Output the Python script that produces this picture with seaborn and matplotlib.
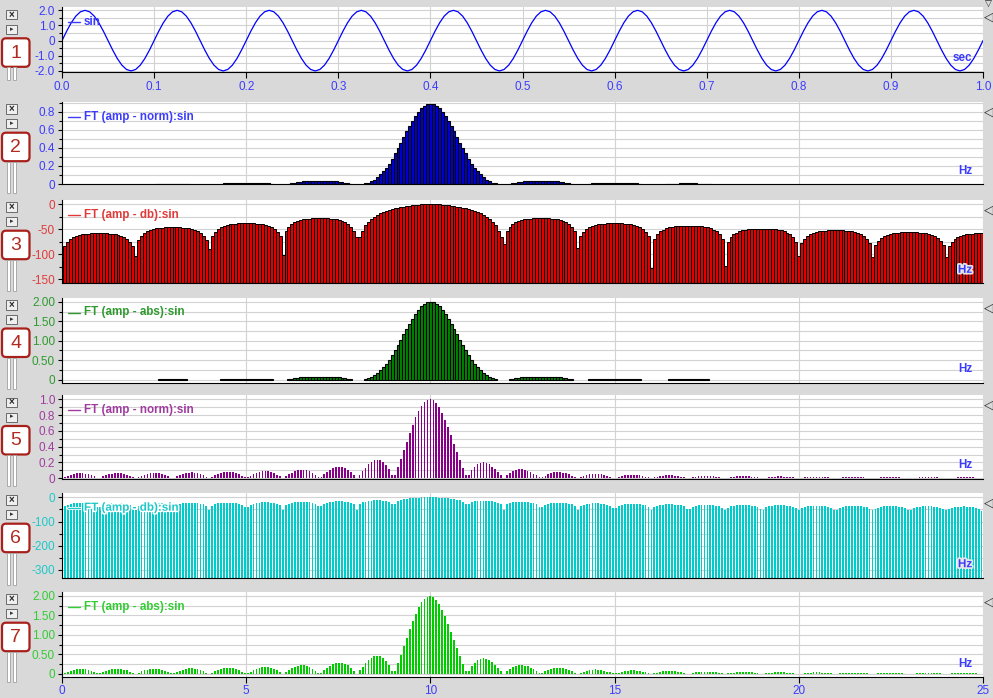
import matplotlib
matplotlib.use("Agg")
import matplotlib.pyplot as plt
import matplotlib.patheffects as pe
from matplotlib.patches import Rectangle, FancyBboxPatch
from matplotlib.ticker import MultipleLocator
import numpy as np
import seaborn as sns

sns.set_style("ticks")
plt.rcParams["font.family"] = ["Liberation Sans", "DejaVu Sans"]

# ---- time signal (one period repeats 10 times over 1 s) ----
time_step = 0.005
sin_period = [0, 0.618, 1.176, 1.618, 1.902, 2.0, 1.902, 1.618, 1.176, 0.618,
              0, -0.618, -1.176, -1.618, -1.902, -2.0, -1.902, -1.618, -1.176, -0.618]
sin_values = sin_period * 10 + [0.0]

# ---- spectra, bin width 0.08 Hz ----
freq_step = 0.08
ft_db_a = [
    -93, -84, -75, -69, -66, -63, -61, -60, -59, -59, -58, -58, -58, -58, -58, -58, -59, -59, -60, -61, -63, -66, -69, -75, -84,
    -103, -72, -63, -57, -54, -51, -49, -48, -47, -47, -46, -46, -46, -46, -46, -46, -47, -47, -48, -49, -51, -54, -57, -63, -72,
    -89, -64, -55, -49, -46, -43, -41, -40, -39, -39, -38, -38, -38, -38, -38, -38, -39, -39, -40, -41, -43, -46, -49, -55, -64,
    -101, -54, -45, -39, -36, -33, -31, -30, -29, -29, -28, -28, -28, -28, -28, -28, -29, -29, -30, -31, -33, -36, -39, -45, -54,
    -65, -65, -53, -42, -35, -29, -25, -21, -18, -16, -14, -12, -10, -8.4, -7, -5.8, -4.7, -3.7, -2.9, -2.1, -1.5, -1.0, -0.5, -0.25, -0.07,
    0, -0.07, -0.25, -0.5, -1.0, -1.5, -2.1, -2.9, -3.7, -4.7, -5.8, -7, -8.4, -10, -12, -14, -16, -18, -21, -25, -29, -35, -42, -53, -65,
    -79, -54, -45, -39, -36, -33, -31, -30, -29, -29, -28, -28, -28, -28, -28, -28, -29, -29, -30, -31, -33, -36, -39, -45, -54,
    -88, -64, -55, -49, -46, -43, -41, -40, -39, -39, -38, -38, -38, -38, -38, -38, -39, -39, -40, -41, -43, -46, -49, -55, -64,
    -127, -69, -60, -54, -51, -48, -46, -45, -44, -44, -43, -43, -43, -43, -43, -43, -44, -44, -45, -46, -48, -51, -54, -60, -69,
    -123, -75, -66, -60, -57, -54, -52, -51, -50, -50, -49, -49, -49, -49, -49, -49, -50, -50, -51, -52, -54, -57, -60, -66, -75,
    -103, -78, -69, -63, -60, -57, -55, -54, -53, -53, -52, -52, -52, -52, -52, -52, -53, -53, -54, -55, -57, -60, -63, -69, -78,
    -105, -82, -73, -67, -64, -61, -59, -58, -57, -57, -56, -56, -56, -56, -56, -56, -57, -57, -58, -59, -61, -64, -67, -73, -82,
    -105, -84, -75, -69, -66, -63, -61, -60, -59, -59, -58, -58, -58,
]
norm_peak_a = 0.89
ft_norm_b = [
    0, .0158, .0307, .0436, .0538, .0606, .0637, .0627, .0578, .0493, .0377, .0236, .0081,
    .0081, .0237, .0380, .0499, .0587, .0639, .0650, .0621, .0553, .0450, .0317, .0164,
    .003, .0165, .0322, .0459, .0568, .0642, .0677, .0669, .0619, .0530, .0406, .0256, .0087,
    .0088, .0260, .0417, .0550, .0649, .0709, .0725, .0696, .0622, .0508, .0360, .0187,
    .003, .0190, .0371, .0531, .0661, .0751, .0795, .0789, .0734, .0631, .0486, .0308, .0106,
    .0107, .0318, .0513, .0680, .0808, .0888, .0914, .0882, .0793, .0652, .0465, .0244,
    .003, .0251, .0494, .0714, .0895, .1025, .1095, .1098, .1030, .0894, .0696, .0445, .0155,
    .0158, .0475, .0777, .1044, .1257, .1401, .1462, .1433, .1310, .1095, .0796, .0425,
    .002, .0456, .0918, .1357, .1746, .2057, .2262, .2340, .2272, .2047, .1659, .1108, .0405,
    .0436, .1393, .2436, .3533, .4649, .5744, .6780, .7723, .8534, .9189, .9663, .9932,
    1.0, .9858, .9508, .8970, .8266, .7420, .6463, .5431, .4360, .3288, .2249, .1275, .0396,
    .0365, .0991, .1471, .1801, .1983, .2025, .1942, .1752, .1476, .1138, .0763, .0376,
    .003, .0345, .0641, .0875, .1038, .1126, .1140, .1083, .0964, .0794, .0586, .0356, .0117,
    .0114, .0325, .0504, .0642, .0734, .0776, .0767, .0713, .0617, .0488, .0335, .0169,
    .003, .0161, .0305, .0424, .0512, .0564, .0579, .0558, .0504, .0420, .0314, .0193, .0064,
    .0063, .0182, .0286, .0367, .0424, .0452, .0451, .0422, .0368, .0294, .0203, .0103,
    .002, .0100, .0190, .0266, .0323, .0358, .0370, .0359, .0326, .0273, .0205, .0127, .0043,
    .0042, .0121, .0191, .0247, .0286, .0306, .0307, .0289, .0253, .0202, .0141, .0072,
    .002, .0070, .0133, .0187, .0228, .0254, .0263, .0256, .0233, .0196, .0148, .0091, .0031,
    .0030, .0088, .0139, .0181, .0210, .0225, .0226, .0213, .0187, .0150, .0104, .0053,
    .002, .0052, .0100, .0141, .0172, .0192, .0199, .0194, .0177, .0149, .0112, .0070, .0024,
    .0023, .0068, .0107, .0139, .0162, .0174, .0175, .0165, .0145, .0117, .0081, .0042,
    .002, .0041, .0078, .0110, .0135, .0151, .0157, .0153, .0140, .0118, .0089, .0055, .0019,
    .0019, .0054, .0085, .0111, .0129, .0139, .0140, .0132, .0117, .0094, .0065, .0034,
    .002, .0033, .0063, .0089, .0109, .0122, .0127, .0124, .0114, .0096, .0073, .0045, .0015,
]
abs_peak = 2.0

channel_labels = ["sin", "FT (amp - norm):sin", "FT (amp - db):sin", "FT (amp - abs):sin",
                  "FT (amp - norm):sin", "FT (amp - db):sin", "FT (amp - abs):sin"]
time_ticks = [0, 0.1, 0.2, 0.3, 0.4, 0.5, 0.6, 0.7, 0.8, 0.9, 1.0]
time_labels = ["0.0", "0.1", "0.2", "0.3", "0.4", "0.5", "0.6", "0.7", "0.8", "0.9", "1.0"]
freq_ticks = [0, 5, 10, 15, 20, 25]
freq_labels = ["0", "5", "10", "15", "20", "25"]

# derived series (unit conversions as shown by the viewer)
t = np.arange(len(sin_values)) * time_step
freqs = np.arange(len(ft_db_a)) * freq_step
lin_a = 10 ** (np.array(ft_db_a) / 20)
norm_a = norm_peak_a * lin_a
abs_a = abs_peak * lin_a
norm_b = np.array(ft_norm_b)
db_b = 20 * np.log10(np.clip(norm_b, 1e-16, None))
abs_b = abs_peak * norm_b

BG = "#d9d9d9"
GRID = "#d2d2d2"
TXT_BLUE = "#3c3cff"
W, H = 993, 698

fig = plt.figure(figsize=(W / 100, H / 100), dpi=100, facecolor=BG)


def make_ax(top, bottom):
    return fig.add_axes([62 / W, 1 - bottom / H, 921 / W, (bottom - top) / H])


def dress(ax, ylim, yticks, ylabels, yminor, color, xlim, xticks, xlabels=None):
    ax.set_facecolor("white")
    ax.set_xlim(*xlim)
    ax.set_ylim(*ylim)
    for side in ("top", "right"):
        ax.spines[side].set_visible(False)
    for side in ("left", "bottom"):
        ax.spines[side].set_color("black")
        ax.spines[side].set_linewidth(0.8)
    ax.set_yticks(yticks)
    ax.set_yticklabels(ylabels)
    ax.yaxis.set_minor_locator(MultipleLocator(yminor))
    ax.set_xticks(xticks)
    if xlabels is None:
        ax.set_xticklabels([])
        ax.tick_params(axis="x", length=0)
    else:
        ax.set_xticklabels(xlabels)
        ax.tick_params(axis="x", length=4, width=0.8, pad=1.5, labelsize=8.5,
                       labelcolor=TXT_BLUE, color="black")
    ax.tick_params(axis="y", which="major", length=3, width=0.8, pad=2,
                   labelsize=8.5, labelcolor=color, color="black")
    ax.tick_params(axis="y", which="minor", length=2, width=0.8, color="black")
    ax.grid(True, axis="y", which="both", color=GRID, lw=0.8)
    ax.grid(True, axis="x", which="major", color=GRID, lw=0.8)
    ax.set_axisbelow(True)


# panel layout in pixels (top, bottom of the white plot area)
tops = [7.3, 101.7, 199.7, 297.5, 395, 492.7, 591.7]
bottoms = [71.7, 184.3, 283.3, 383, 479, 577.7, 677.3]
colors_txt = [TXT_BLUE, TXT_BLUE, "#e03a3a", "#2e9a2e", "#a03ca0", "#1ec8c8", "#33cc33"]

# 1: time signal
ax1 = make_ax(tops[0], bottoms[0])
sns.lineplot(x=t, y=sin_values, ax=ax1, color="#0000ff", linewidth=0.9,
             estimator=None, sort=False, legend=False)
dress(ax1, (-2.05, 2.2), [-2, -1, 0, 1, 2], ["-2.0", "-1.0", "0", "1.0", "2.0"], 0.5,
      TXT_BLUE, (0, 1), time_ticks, time_labels)
ax1.tick_params(axis="x", pad=3)
ax1.set_xlabel("")
ax1.set_ylabel("")

# 2: norm (blue)
ax2 = make_ax(tops[1], bottoms[1])
m = norm_a >= 0.0035
ax2.bar(freqs[m], norm_a[m], width=freq_step, color="#0000e0", edgecolor="black", linewidth=0.8)
dress(ax2, (-0.003, 0.91), [0, 0.2, 0.4, 0.6, 0.8], ["0", "0.2", "0.4", "0.6", "0.8"], 0.1,
      colors_txt[1], (0, 25), freq_ticks)

# 3: dB (red)
ax3 = make_ax(tops[2], bottoms[2])
b3 = -158
ax3.bar(freqs, np.array(ft_db_a) - b3, bottom=b3, width=freq_step, color="#e00000",
        edgecolor="black", linewidth=0.7)
dress(ax3, (b3, 9), [-150, -100, -50, 0], ["-150", "-100", "-50", "0"], 25,
      colors_txt[2], (0, 25), freq_ticks)

# 4: abs (dark green)
ax4 = make_ax(tops[3], bottoms[3])
m4 = abs_a >= 0.0080
ax4.bar(freqs[m4], abs_a[m4], width=freq_step, color="#008a00", edgecolor="black", linewidth=0.8)
dress(ax4, (-0.085, 2.11), [0, 0.5, 1, 1.5, 2], ["0", "0.50", "1.00", "1.50", "2.00"], 0.25,
      colors_txt[3], (0, 25), freq_ticks)

# 5: norm (purple)
ax5 = make_ax(tops[4], bottoms[4])
ax5.bar(freqs, norm_b, width=0.045, color="#880088", linewidth=0)
dress(ax5, (-0.01, 1.055), [0, 0.2, 0.4, 0.6, 0.8, 1.0], ["0", "0.2", "0.4", "0.6", "0.8", "1.0"],
      0.1, colors_txt[4], (0, 25), freq_ticks)

# 6: dB (cyan)
ax6 = make_ax(tops[5], bottoms[5])
b6 = -332
ax6.bar(freqs, db_b - b6, bottom=b6, width=0.05, color="#00cccc", linewidth=0)
dress(ax6, (b6, 19), [-300, -200, -100, 0], ["-300", "-200", "-100", "0"], 50,
      colors_txt[5], (0, 25), freq_ticks)

# 7: abs (green)
ax7 = make_ax(tops[6], bottoms[6])
ax7.bar(freqs, abs_b, width=0.05, color="#00cc00", linewidth=0)
dress(ax7, (-0.085, 2.11), [0, 0.5, 1, 1.5, 2], ["0", "0.50", "1.00", "1.50", "2.00"], 0.25,
      colors_txt[6], (0, 25), freq_ticks, freq_labels)

# overlay in pixel units for labels and the viewer widgets
ov = fig.add_axes([0, 0, 1, 1])
ov.set_xlim(0, W)
ov.set_ylim(H, 0)
ov.axis("off")
ov.patch.set_alpha(0)

halo = [pe.withStroke(linewidth=2.2, foreground="white")]
slider_end = [80, 193, 291, 389, 486, 585, 682]
for i, (top, bottom) in enumerate(zip(tops, bottoms)):
    col = colors_txt[i]
    # legend entry
    ly = top + 15 if i else 22
    fx = halo if i == 5 else None
    ov.plot([68, 80], [ly, ly], color=col, lw=1, path_effects=fx)
    ov.text(84, ly, channel_labels[i], color=col, fontsize=8.4, fontweight="bold",
            va="center", ha="left", path_effects=fx)
    # unit label
    unit = "sec" if i == 0 else "Hz"
    ux = 962 if i == 0 else 965
    ufx = [pe.withStroke(linewidth=2.5, foreground="#e6e6e6")] if i in (2, 5) else None
    ov.text(ux, bottom - 13.5, unit, color=TXT_BLUE, fontsize=8.4, fontweight="bold",
            ha="center", va="center", path_effects=ufx)
    # close / expand buttons
    ov.add_patch(Rectangle((6, top + 2.5), 11, 9.5, fc="#efefef", ec="#6a6a6a", lw=0.7))
    ov.text(11.5, top + 7.4, "×", fontsize=7, fontweight="bold", ha="center", va="center")
    ov.add_patch(Rectangle((6, top + 17.5), 11, 9, fc="#efefef", ec="#6a6a6a", lw=0.7))
    ov.text(11.5, top + 22, "▸", fontsize=5, ha="center", va="center", color="#333333")
    # channel number box
    ov.add_patch(FancyBboxPatch((2, top + 31), 27.5, 28.5, boxstyle="round,pad=0,rounding_size=4",
                                fc="white", ec="#a8201a", lw=1.6))
    ov.text(15.7, top + 45.8, str(i + 1), fontsize=14, color="#b02a20", ha="center", va="center")
    # slider
    for sx in (7, 13):
        ov.add_patch(Rectangle((sx, top + 60), 2.5, slider_end[i] - top - 60,
                               fc="white", ec="#a0a0a0", lw=0.6))
    # right-hand marker
    ov.text(989, top + 10, "◁", fontsize=9, ha="center", va="center", family="DejaVu Sans")

ov.text(988, 4, "▽", fontsize=6.5, ha="center", va="center", family="DejaVu Sans")

fig.savefig("out.png", dpi=100, facecolor=BG)
